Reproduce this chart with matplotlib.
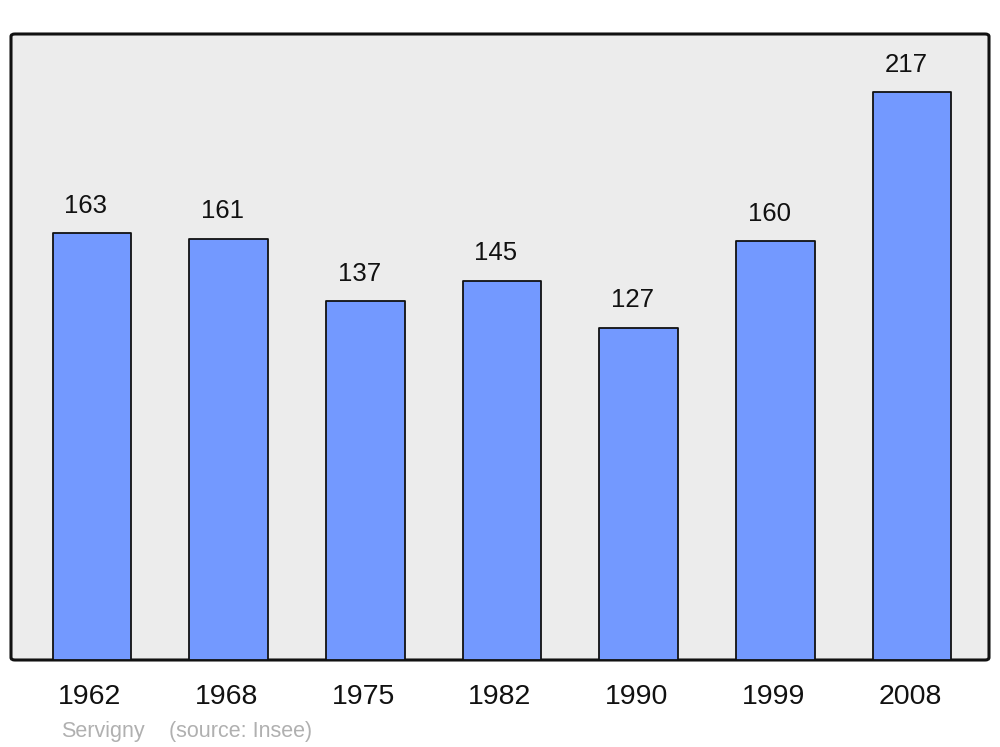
import matplotlib.pyplot as plt
from matplotlib.patches import FancyBboxPatch

plt.rcParams['font.family'] = ['Liberation Sans', 'DejaVu Sans']

# data
years = ['1962', '1968', '1975', '1982', '1990', '1999', '2008']
population = [163, 161, 137, 145, 127, 160, 217]

fig = plt.figure(figsize=(10, 7.47), dpi=100)
ax = fig.add_axes([0.011, 87 / 747, 0.978, 626 / 747])
ax.set_facecolor('none')
for s in ax.spines.values():
    s.set_visible(False)

# rounded grey frame
frame = FancyBboxPatch((0, 0), 1, 1, boxstyle='round,pad=0,rounding_size=0.004',
                       transform=ax.transAxes, facecolor='#ececec',
                       edgecolor='#111111', linewidth=2.2, zorder=0, clip_on=False)
ax.add_patch(frame)

x = range(len(years))
bars = ax.bar(x, population, width=0.575, color='#7399ff', edgecolor='#111111',
              linewidth=1.3, zorder=2)
for b in bars:
    b.set_joinstyle('round')

# value labels sit a little left of the bar centre
for i, v in enumerate(population):
    ax.text(i - 0.045, v + 10.5, str(v), ha='center', va='center', fontsize=18.5, color='#111111')

ax.set_xlim(-0.593, 6.563)
ax.set_ylim(0, 239.2)
ax.set_yticks([])
ax.set_xticks([])
for i, yr in enumerate(years):
    ax.text(i - 0.015, -14.1, yr, ha='center', va='center', fontsize=20.5, color='#111111')

fig.text(0.061, 1 - 732 / 747, 'Servigny', fontsize=15.5, color='#b0b0b0', va='center')
fig.text(0.169, 1 - 732 / 747, '(source: Insee)', fontsize=15.5, color='#b0b0b0', va='center')

fig.savefig('out.png', dpi=100)
